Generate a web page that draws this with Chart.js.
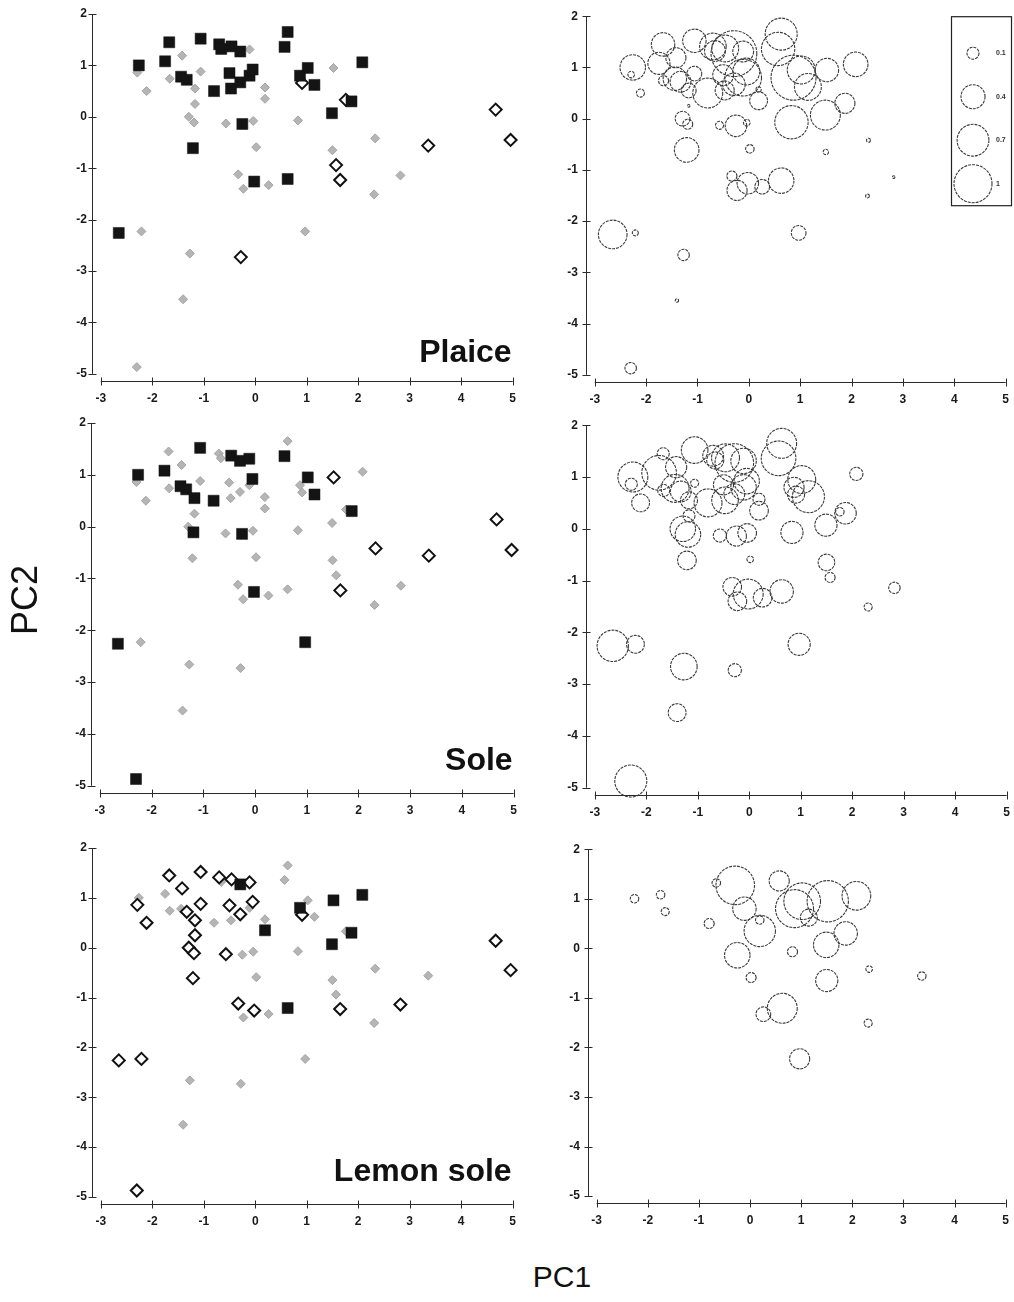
<!DOCTYPE html>
<html>
<head>
<meta charset="utf-8">
<script src="https://cdn.jsdelivr.net/npm/chart.js@4.4.1/dist/chart.umd.min.js"></script>
<style>
  html, body { margin: 0; padding: 0; background: #fff; overflow: hidden; }
  body { width: 1014px; height: 1302px; position: relative; font-family: 'Liberation Sans', Arial, sans-serif; }
  canvas { position: absolute; }
  .lab { position: absolute; color: #111; white-space: nowrap; line-height: 1; }
  #pc2 { left: 25px; top: 600px; font-size: 36px; transform: translate(-50%, -50%) rotate(-90deg); }
  #pc1 { left: 562px; top: 1262px; font-size: 30px; transform: translateX(-50%); }
</style>
</head>
<body>
<canvas id="p1l"></canvas>
<canvas id="p1r"></canvas>
<canvas id="p2l"></canvas>
<canvas id="p2r"></canvas>
<canvas id="p3l"></canvas>
<canvas id="p3r"></canvas>
<div class="lab" id="pc2">PC2</div>
<div class="lab" id="pc1">PC1</div>
<script>
// sites on the PCA plane (PC1, PC2), same sites in every panel
const siteX = [-2.26, -1.75, -1.67, -1.06, -1.44, -1.33, -1.21, -0.80, -0.70, -0.66,
  -0.46, -0.29, -0.50, -0.47, -0.29, -0.11, -0.05, -0.25, -0.02, 0.57,
  0.63, 0.87, 1.02, 1.15, 1.87, 1.49, 2.08, 0.63, -2.65, 0.91,
  1.76, 4.67, 4.96, 3.36, 1.57, 1.65, -0.28, -2.29, -2.11, -1.66,
  -1.42, -1.06, -1.17, -1.17, -1.29, -1.19, -0.57, -0.11, 0.19, 0.19,
  -0.04, 0.02, -0.33, -0.23, 0.26, 0.83, 1.52, 1.50, 2.33, 2.82,
  2.31, -2.21, 0.97, -1.27, -1.40, -2.30];
const siteY = [1.00, 1.08, 1.45, 1.52, 0.78, 0.72, -0.61, 0.50, 1.41, 1.32,
  1.37, 1.27, 0.85, 0.55, 0.67, 0.80, 0.92, -0.14, -1.26, 1.36,
  1.65, 0.80, 0.95, 0.62, 0.30, 0.07, 1.06, -1.21, -2.26, 0.66,
  0.33, 0.14, -0.45, -0.56, -0.94, -1.23, -2.73, 0.86, 0.50, 0.74,
  1.19, 0.88, 0.55, 0.25, 0.00, -0.11, -0.13, 1.31, 0.57, 0.35,
  -0.08, -0.59, -1.12, -1.40, -1.33, -0.07, 0.95, -0.65, -0.42, -1.14,
  -1.51, -2.23, -2.23, -2.66, -3.55, -4.87];

// B = black square, O = open diamond, G = grey diamond (one letter per site)
const plaiceGroup = ('BBBBBBBBBB' + 'BBBBBBBBBB' + 'BBBBBBBBBO' + 'OOOOOOOGGG' +
  'GGGGGGGGGG' + 'GGGGGGGGGG' + 'GGGGGG').split('');
const soleGroup = ('BBGBBBGBGG' + 'BBGGGGBBBB' + 'GGBBBGGGBG' + 'GOOOGOGGGG' +
  'GGBGGBGBGG' + 'GGGGGGOGOG' + 'GGBGGB').split('');
const lemonGroup = ('GGOOGOOGOG' + 'OBOGOGOGOG' + 'GBGGBBBBOO' + 'GOOGGOGOOG' +
  'OOOOOOOOGB' + 'GGOGGGBGGO' + 'GOGGGO').split('');

// bubble values per site (0 = no bubble)
const plaiceSize = [0.45, 0.34, 0.38, 0.38, 0.38, 0.30, 0.42, 0.62, 0.49, 0.30,
  0.50, 1.45, 0.30, 0.25, 0.35, 0.93, 0.50, 0.32, 0.32, 0.77,
  0.71, 1.40, 0.54, 0.50, 0.28, 0.62, 0.42, 0.45, 0.57, 0,
  0, 0, 0, 0, 0, 0, 0, 0.03, 0.045, 0.07,
  0.28, 0.15, 0.15, 0.005, 0.15, 0.07, 0.045, 0.30, 0.02, 0.22,
  0.03, 0.05, 0.07, 0.28, 0.15, 0.77, 0.38, 0.02, 0.011, 0.005,
  0.01, 0.025, 0.15, 0.09, 0.008, 0.09];
const soleSize = [0.62, 0.83, 0.10, 0.49, 0.54, 0.30, 0.24, 0.54, 0.30, 0.20,
  0.54, 1.03, 0.28, 0.49, 0.30, 0.45, 0.45, 0.28, 0.62, 0.83,
  0.62, 0.28, 0.54, 0.71, 0.32, 0.34, 0.12, 0.38, 0.68, 0.20,
  0.05, 0, 0, 0, 0.07, 0, 0.12, 0.10, 0.22, 0.10,
  0.31, 0.045, 0.20, 0.10, 0.45, 0.45, 0.12, 0.45, 0.10, 0.24,
  0.24, 0.03, 0.24, 0.24, 0.24, 0.34, 0, 0.19, 0, 0.09,
  0.045, 0.22, 0.34, 0.49, 0.22, 0.71];
const lemonSize = [0.05, 0.05, 0, 0, 0, 0, 0, 0.07, 0, 0.05,
  0, 1.03, 0, 0, 0, 0.38, 0, 0.45, 0, 0.28,
  0, 1.00, 0.93, 0.20, 0.38, 0.45, 0.57, 0.62, 0, 0,
  0, 0, 0, 0.05, 0, 0, 0, 0, 0, 0.045,
  0, 0, 0, 0, 0, 0, 0, 0, 0.05, 0.68,
  0, 0.07, 0, 0, 0.15, 0.07, 1.18, 0.34, 0.03, 0,
  0.045, 0, 0.28, 0, 0, 0];

const legendValues = [0.1, 0.4, 0.7, 1];
const xTicks = [-3, -2, -1, 0, 1, 2, 3, 4, 5];
const yTicks = [-5, -4, -3, -2, -1, 0, 1, 2];

const maxRadius = 19; // pixel radius of value 1
const sizeToRadius = v => maxRadius * Math.sqrt(v);
const tickFont = { family: "'Liberation Sans', Arial, sans-serif", size: 12, weight: 'bold' };

function groupPoints(groups, code) {
  let pts = [];
  siteX.forEach(function(x, i) {
    if (groups[i] === code) pts.push({ x: x, y: siteY[i] });
  });
  return pts;
}

function bubblePoints(sizes) {
  let pts = [];
  siteX.forEach(function(x, i) {
    if (sizes[i] > 0) pts.push({ x: x, y: siteY[i], v: sizes[i] });
  });
  return pts;
}

function leftDatasets(groups) {
  return [
    { data: groupPoints(groups, 'G'), order: 3, pointStyle: 'rectRot', pointRadius: 4.5,
      backgroundColor: '#b5b5b5', borderColor: '#a5a5a5', borderWidth: 1, clip: false },
    { data: groupPoints(groups, 'O'), order: 2, pointStyle: 'rectRot', pointRadius: 6,
      backgroundColor: '#ffffff', borderColor: '#111111', borderWidth: 2, clip: false },
    { data: groupPoints(groups, 'B'), order: 1, pointStyle: 'rect', pointRadius: 7.8,
      backgroundColor: '#141414', borderColor: '#141414', borderWidth: 0.5, clip: false }
  ];
}

function rightDatasets(sizes) {
  return [{
    data: bubblePoints(sizes), dashed: true, pointStyle: 'circle',
    pointRadius: ctx => sizeToRadius(ctx.raw.v),
    backgroundColor: 'rgba(0,0,0,0)', borderColor: '#3a3a3a', borderWidth: 1.1, clip: false
  }];
}

// offset axes with crossing tick marks, panel name, size legend
const panelDeco = {
  id: 'panelDeco',
  beforeDatasetDraw(chart, args) {
    if (chart.data.datasets[args.index].dashed) chart.ctx.setLineDash([3, 1]);
  },
  afterDatasetDraw(chart) {
    chart.ctx.setLineDash([]);
  },
  afterDraw(chart, args, opts) {
    const ctx = chart.ctx, a = chart.chartArea;
    const xs = chart.scales.x, ys = chart.scales.y;
    const ax = Math.round(a.left) + 0.5, ay = Math.round(a.bottom) + 0.5;
    ctx.save();
    ctx.strokeStyle = '#2a2a2a';
    ctx.lineWidth = 1;
    ctx.beginPath();
    ctx.moveTo(ax, ys.getPixelForValue(yTicks[yTicks.length - 1]));
    ctx.lineTo(ax, ys.getPixelForValue(yTicks[0]));
    yTicks.forEach(function(v) {
      const p = Math.round(ys.getPixelForValue(v)) + 0.5;
      ctx.moveTo(ax - 4, p);
      ctx.lineTo(ax + 4, p);
    });
    ctx.moveTo(xs.getPixelForValue(xTicks[0]), ay);
    ctx.lineTo(xs.getPixelForValue(xTicks[xTicks.length - 1]), ay);
    xTicks.forEach(function(v) {
      const p = Math.round(xs.getPixelForValue(v)) + 0.5;
      ctx.moveTo(p, ay - 4);
      ctx.lineTo(p, ay + 4);
    });
    ctx.stroke();

    if (opts.title) {
      ctx.fillStyle = '#111';
      ctx.font = "bold 32px 'Liberation Sans', Arial, sans-serif";
      ctx.textAlign = 'right';
      ctx.textBaseline = 'alphabetic';
      ctx.fillText(opts.title, a.right - 1, a.bottom - opts.titleLift);
    }

    if (opts.legend) {
      const bx = a.left + 365, by = a.top;
      ctx.strokeStyle = '#222';
      ctx.lineWidth = 1.2;
      ctx.strokeRect(bx + 0.5, by + 0.5, 60, 189);
      ctx.font = "bold 7px 'Liberation Sans', Arial, sans-serif";
      ctx.textAlign = 'left';
      ctx.textBaseline = 'middle';
      legendValues.forEach(function(v, i) {
        const cy = by + 37 + i * 43.5;
        ctx.strokeStyle = '#3a3a3a';
        ctx.lineWidth = 1.1;
        ctx.setLineDash([3, 1]);
        ctx.beginPath();
        ctx.arc(bx + 22, cy, sizeToRadius(v), 0, Math.PI * 2);
        ctx.stroke();
        ctx.setLineDash([]);
        ctx.fillStyle = '#333';
        ctx.fillText(String(v), bx + 45, cy);
      });
    }
    ctx.restore();
  }
};

function makePanel(id, box, datasets, deco) {
  const padL = 90, padT = 14, padR = 12, padB = 26;
  const cv = document.getElementById(id);
  cv.width = box.r - box.l + padL + padR;
  cv.height = box.b - box.t + padT + padB;
  cv.style.left = (box.l - padL) + 'px';
  cv.style.top = (box.t - padT) + 'px';
  return new Chart(cv, {
    type: 'scatter',
    data: { datasets: datasets },
    options: {
      responsive: false,
      animation: false,
      devicePixelRatio: 1,
      events: [],
      layout: { autoPadding: false, padding: { left: 0, top: padT, right: padR, bottom: 0 } },
      plugins: { legend: { display: false }, tooltip: { enabled: false }, panelDeco: deco },
      scales: {
        x: {
          type: 'linear', min: -3.17, max: 5,
          afterFit: s => { s.height = padB; },
          afterBuildTicks: s => { s.ticks = xTicks.map(v => ({ value: v })); },
          grid: { display: false, drawTicks: false },
          border: { display: false },
          ticks: { padding: 10, font: tickFont, color: '#1a1a1a', maxRotation: 0, autoSkip: false }
        },
        y: {
          type: 'linear', min: -5.14, max: 2,
          afterFit: s => { s.width = padL; },
          afterBuildTicks: s => { s.ticks = yTicks.map(v => ({ value: v })); },
          grid: { display: false, drawTicks: false },
          border: { display: false },
          ticks: { padding: box.yPad, font: tickFont, color: '#1a1a1a', autoSkip: false }
        }
      }
    },
    plugins: [panelDeco]
  });
}

makePanel('p1l', { l: 92, r: 514, t: 14, b: 381, yPad: 5 }, leftDatasets(plaiceGroup),
  { title: 'Plaice', titleLift: 19 });
makePanel('p1r', { l: 586, r: 1007, t: 15, b: 382, yPad: 8 }, rightDatasets(plaiceSize),
  { legend: true });
makePanel('p2l', { l: 91, r: 515, t: 423, b: 793, yPad: 5 }, leftDatasets(soleGroup),
  { title: 'Sole', titleLift: 23 });
makePanel('p2r', { l: 586, r: 1008, t: 424, b: 795, yPad: 8 }, rightDatasets(soleSize), {});
makePanel('p3l', { l: 92, r: 514, t: 848, b: 1204, yPad: 5 }, leftDatasets(lemonGroup),
  { title: 'Lemon sole', titleLift: 23 });
makePanel('p3r', { l: 588, r: 1007, t: 848, b: 1203, yPad: 8 }, rightDatasets(lemonSize), {});
</script>
</body>
</html>
